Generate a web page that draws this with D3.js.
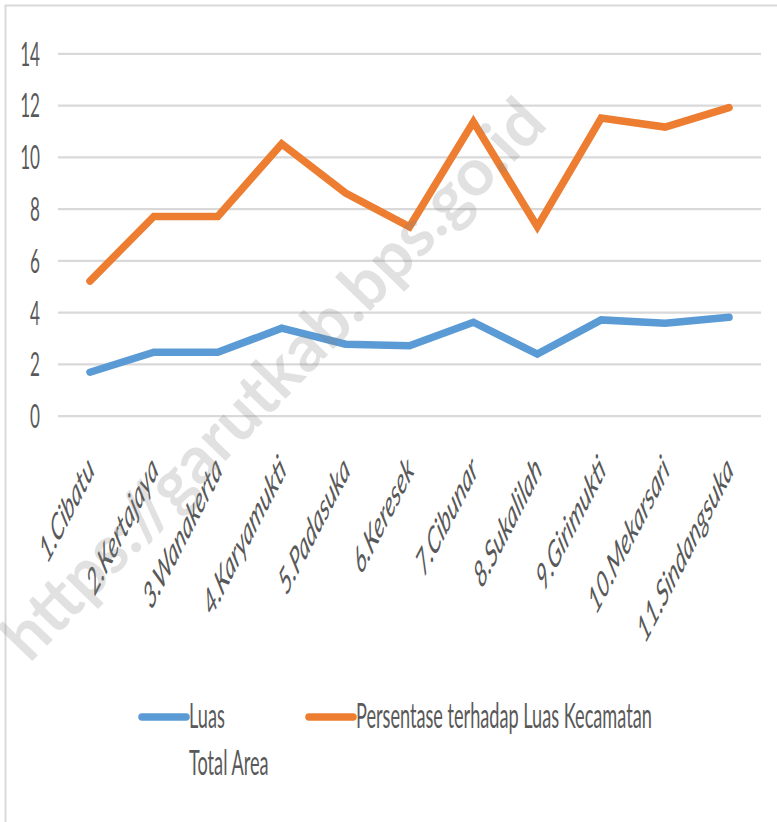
<!DOCTYPE html>
<html>
<head>
<meta charset="utf-8">
<script src="https://cdn.jsdelivr.net/npm/d3@7"></script>
<style>
  html, body { margin: 0; padding: 0; background: #fff; }
  svg { display: block; }
  text { font-family: Lato, "Noto Sans", sans-serif; fill: #595959; }
</style>
</head>
<body>
<svg id="chart" width="777" height="822"></svg>
<script>
// ---- data ----
const categories = ["1.Cibatu", "2.Kertajaya", "3.Wanakerta", "4.Karyamukti", "5.Padasuka",
  "6.Keresek", "7.Cibunar", "8.Sukalilah", "9.Girimukti", "10.Mekarsari", "11.Sindangsuka"];
const luas = [1.68, 2.45, 2.45, 3.38, 2.76, 2.70, 3.61, 2.38, 3.70, 3.57, 3.80];
const persentase = [5.2, 7.7, 7.7, 10.5, 8.6, 7.3, 11.35, 7.3, 11.5, 11.15, 11.9];
const yTicks = [0, 2, 4, 6, 8, 10, 12, 14];
const seriesNames = ["Luas", "Persentase terhadap Luas Kecamatan"];
const seriesSub = ["Total Area", ""];
const colors = ["#5B9BD5", "#ED7D31"];
const watermark = "https://garutkab.bps.go.id";

const svg = d3.select("#chart");
const FS_LEG = 35, FS_Y = 33, FS_X = 37;

// horizontal squish factor of the text (measured from legend label width)
const probe = svg.append("text").attr("font-size", FS_LEG).text(seriesNames[1]);
const sx = 296 / probe.node().getComputedTextLength();
probe.remove();

// border
svg.append("path").attr("d", "M5.5,830 V5.5 H790")
  .attr("fill", "none").attr("stroke", "#d9d9d9").attr("stroke-width", 2);

const x = d3.scalePoint().domain(categories).range([58, 761]).padding(0.5);
const y = d3.scaleLinear().domain([0, 14]).range([415.7, 53.3]);

// gridlines
const grid = svg.append("g").attr("transform", "translate(58,0)")
  .call(d3.axisLeft(y).tickValues(yTicks).tickSize(-703).tickFormat(""));
grid.select(".domain").remove();
grid.selectAll("line").attr("stroke", "#d9d9d9").attr("stroke-width", 2.2);

// y tick labels
const ya = svg.append("g").attr("transform", "translate(40,0)")
  .call(d3.axisLeft(y).tickValues(yTicks).tickSize(0).tickFormat(d3.format("d")));
ya.select(".domain").remove();
ya.selectAll("text")
  .attr("x", 0).attr("dy", "0.36em")
  .attr("text-anchor", "end")
  .attr("font-size", FS_Y)
  .attr("fill", "#595959")
  .attr("font-family", "Lato, 'Noto Sans', sans-serif")
  .attr("transform", `scale(${sx},1)`);

// x labels
const xa = svg.append("g").attr("transform", "translate(0,472)")
  .call(d3.axisBottom(x).tickSize(0));
xa.select(".domain").remove();
xa.selectAll("text")
  .attr("x", 0).attr("y", 0).attr("dy", 0)
  .attr("text-anchor", "end")
  .attr("font-size", FS_X)
  .attr("font-style", "italic")
  .attr("fill", "#595959")
  .attr("font-family", "Lato, 'Noto Sans', sans-serif")
  .attr("transform", `translate(5,0) scale(${sx},1) rotate(-45)`);

// lines
const line = d3.line().x((d, i) => x(categories[i])).y(d => y(d));
[luas, persentase].forEach((vals, k) => {
  svg.append("path").datum(vals)
    .attr("d", line)
    .attr("fill", "none")
    .attr("stroke", colors[k])
    .attr("stroke-width", 7.5)
    .attr("stroke-linejoin", "miter")
    .attr("stroke-linecap", "round");
});

// legend
const legendX = [142, 309];
seriesNames.forEach((name, k) => {
  const g = svg.append("g").attr("transform", `translate(${legendX[k]},717)`);
  g.append("line").attr("x1", 0).attr("x2", 44).attr("y1", 0).attr("y2", 0)
    .attr("stroke", colors[k]).attr("stroke-width", 7.5).attr("stroke-linecap", "round");
  g.append("text").attr("font-size", FS_LEG)
    .attr("transform", `translate(47,11) scale(${sx},1)`)
    .text(name);
  if (seriesSub[k]) {
    g.append("text").attr("font-size", FS_LEG)
      .attr("transform", `translate(47,58) scale(${sx},1)`)
      .text(seriesSub[k]);
  }
});

// watermark
svg.append("text")
  .attr("transform", "translate(277,383) rotate(-46)")
  .attr("text-anchor", "middle")
  .attr("dy", "0.26em")
  .attr("font-family", "'Liberation Sans', Arial, sans-serif")
  .attr("font-weight", "bold")
  .attr("font-size", 66)
  .style("fill", "rgba(128,128,128,0.24)")
  .text(watermark);
</script>
</body>
</html>
